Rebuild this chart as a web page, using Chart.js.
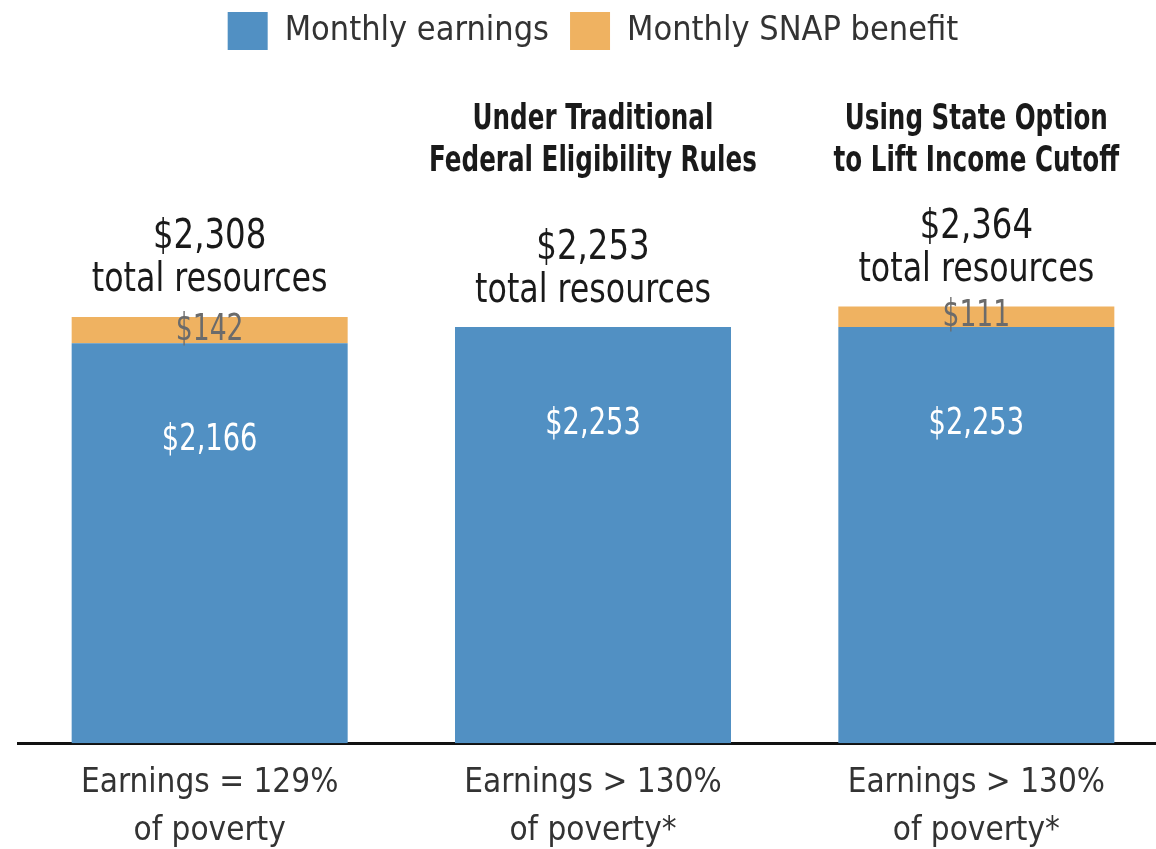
<!DOCTYPE html>
<html>
<head>
<meta charset="utf-8">
<script src="https://cdn.jsdelivr.net/npm/chart.js@4.4.0/dist/chart.umd.min.js"></script>
<style>
    html, body { margin: 0; padding: 0; background: #fff; overflow: hidden; }
    #wrap { width: 1186px; height: 849px; position: relative; }
</style>
</head>
<body>
<div id="wrap"><canvas id="snapChart"></canvas></div>
<script>
// Chart data
const categories = [
    ['Earnings = 129%', 'of poverty'],
    ['Earnings > 130%', 'of poverty*'],
    ['Earnings > 130%', 'of poverty*']
];
const earnings = [2166, 2253, 2253];
const snapBenefit = [142, 0, 111];
const headers = [
    [],
    ['Under Traditional', 'Federal Eligibility Rules'],
    ['Using State Option', 'to Lift Income Cutoff']
];

const FONT = "'DejaVu Sans Condensed', 'Liberation Sans Narrow', sans-serif";
const BLUE = '#5190c3';
const ORANGE = '#efb261';

function money(v) {
    return '$' + v.toLocaleString('en-US');
}

// squeeze text horizontally so it looks like the narrow face in the original
function narrowText(ctx, text, x, y, sx) {
    ctx.save();
    ctx.translate(x, y);
    ctx.scale(sx, 1);
    ctx.fillText(text, 0, 0);
    ctx.restore();
}

// Draws value labels, totals and the column headers
const labelPlugin = {
    id: 'labelPlugin',
    afterDatasetsDraw(chart) {
        const ctx = chart.ctx;
        const metaE = chart.getDatasetMeta(0);
        const metaS = chart.getDatasetMeta(1);
        ctx.save();
        ctx.textAlign = 'center';
        ctx.textBaseline = 'middle';

        categories.forEach((c, i) => {
            const barE = metaE.data[i];
            const barS = metaS.data[i];
            const x = barE.x;

            // earnings label inside the blue bar
            ctx.fillStyle = '#ffffff';
            ctx.font = '38px ' + FONT;
            narrowText(ctx, money(earnings[i]), x, barE.y + 97, 0.8);

            // SNAP label on the orange band
            if (snapBenefit[i] > 0) {
                ctx.fillStyle = '#6b6b6b';
                ctx.font = '37px ' + FONT;
                narrowText(ctx, money(snapBenefit[i]), x, (barS.y + barS.base) / 2, 0.8);
            }

            // total resources above the bar
            const top = snapBenefit[i] > 0 ? barS.y : barE.y;
            const total = earnings[i] + snapBenefit[i];
            ctx.fillStyle = '#1a1a1a';
            ctx.font = '40px ' + FONT;
            narrowText(ctx, money(total), x, top - 79, 0.9);
            narrowText(ctx, 'total resources', x, top - 36, 0.88);

            // bold column headers
            ctx.font = 'bold 36px ' + FONT;
            headers[i].forEach((line, j) => {
                narrowText(ctx, line, x, 120 + j * 42, 0.76);
            });
        });
        ctx.restore();
    }
};

const ctx = document.getElementById('snapChart').getContext('2d');
new Chart(ctx, {
    type: 'bar',
    data: {
        labels: categories,
        datasets: [
            {
                label: 'Monthly earnings',
                data: earnings,
                backgroundColor: BLUE,
                borderWidth: 0
            },
            {
                label: 'Monthly SNAP benefit',
                data: snapBenefit,
                backgroundColor: ORANGE,
                borderWidth: 0
            }
        ]
    },
    options: {
        responsive: true,
        maintainAspectRatio: false,
        animation: false,
        layout: {
            padding: { left: 18, right: 18, top: -9, bottom: -14 }
        },
        datasets: {
            bar: { categoryPercentage: 1, barPercentage: 0.72 }
        },
        plugins: {
            legend: {
                display: true,
                position: 'top',
                labels: {
                    boxWidth: 40,
                    boxHeight: 38,
                    padding: 21,
                    color: '#333',
                    font: { family: FONT, size: 34 }
                }
            },
            tooltip: { enabled: false }
        },
        scales: {
            x: {
                stacked: true,
                grid: { display: false },
                border: { display: true, color: '#111', width: 3 },
                ticks: {
                    color: '#333',
                    padding: 8,
                    font: { family: FONT, size: 33, lineHeight: 1.45 }
                }
            },
            y: {
                stacked: true,
                display: false,
                min: 0,
                max: 3699
            }
        }
    },
    plugins: [labelPlugin]
});
</script>
</body>
</html>
